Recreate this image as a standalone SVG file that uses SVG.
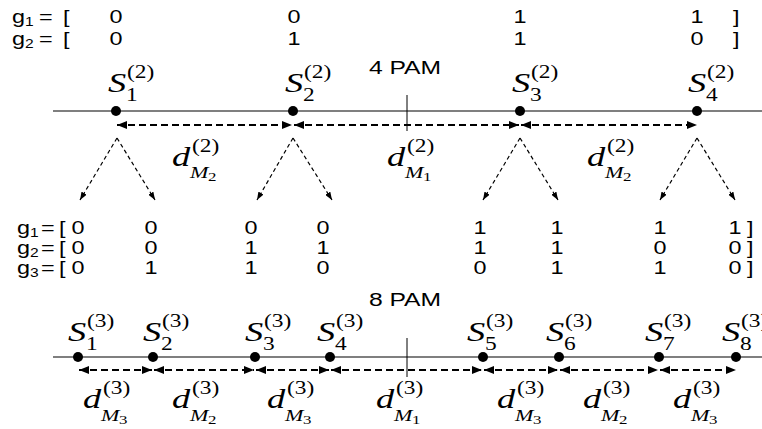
<svg xmlns="http://www.w3.org/2000/svg" width="762" height="429" viewBox="0 0 762 429">
<defs>
<style>
.t{font-family:"Liberation Sans",Arial,sans-serif;font-size:18px;fill:#000}
.c{text-anchor:middle}
.sb{font-size:12px}
.pam{font-family:"Liberation Sans",Arial,sans-serif;font-size:19px;fill:#000;text-anchor:middle}
.m{font-family:"Liberation Serif","Times New Roman",serif;fill:#000}
.big{font-size:28px;font-style:italic}
.sm{font-size:18px}
.mi{font-size:17px;font-style:italic}
.xs{font-size:13px}
.axis{stroke:#555;stroke-width:1.5;fill:none}
.tick{stroke:#000;stroke-width:1;fill:none}
.dist{stroke:#000;stroke-width:2;stroke-dasharray:7 4;fill:none}
.split{stroke:#000;stroke-width:1.2;stroke-dasharray:4 3;fill:none}
.dot{fill:#000}
</style>
<marker id="ah" viewBox="0 0 10 8" refX="10" refY="4" markerWidth="10" markerHeight="8" markerUnits="userSpaceOnUse" orient="auto-start-reverse">
<path d="M0,0 L10,4 L0,8 Z" fill="#000"/>
</marker>
<marker id="sh" viewBox="0 0 8 6" refX="8" refY="3" markerWidth="8" markerHeight="6" markerUnits="userSpaceOnUse" orient="auto">
<path d="M0,0 L8,3 L0,6 Z" fill="#000"/>
</marker>
</defs>

<g id="axis-4pam">
<line class="axis" x1="53" y1="111" x2="762" y2="111"/>
<line class="tick" x1="407" y1="95" x2="407" y2="131"/>
</g>
<g id="axis-8pam">
<line class="axis" x1="53" y1="357" x2="762" y2="357"/>
<line class="tick" x1="407" y1="338" x2="407" y2="377"/>
</g>

<g id="points-4pam">
<circle id="dot-S1-2" class="dot" cx="116" cy="111" r="5"/>
<circle id="dot-S2-2" class="dot" cx="293" cy="111" r="5"/>
<circle id="dot-S3-2" class="dot" cx="520" cy="111" r="5"/>
<circle id="dot-S4-2" class="dot" cx="697" cy="111" r="5"/>
</g>
<g id="points-8pam">
<circle id="dot-S1-3" class="dot" cx="78" cy="357" r="5"/>
<circle id="dot-S2-3" class="dot" cx="153" cy="357" r="5"/>
<circle id="dot-S3-3" class="dot" cx="255" cy="357" r="5"/>
<circle id="dot-S4-3" class="dot" cx="330" cy="357" r="5"/>
<circle id="dot-S5-3" class="dot" cx="483" cy="357" r="5"/>
<circle id="dot-S6-3" class="dot" cx="559" cy="357" r="5"/>
<circle id="dot-S7-3" class="dot" cx="659" cy="357" r="5"/>
<circle id="dot-S8-3" class="dot" cx="736" cy="357" r="5"/>
</g>

<g id="texts" transform="scale(1.3,1)">
<g id="table-4pam">
<text class="t" x="9.23" y="23">g<tspan class="sb" dy="3">1</tspan><tspan x="30" dy="-3">=</tspan><tspan x="48.46">[</tspan></text>
<text class="t" x="9.23" y="45">g<tspan class="sb" dy="3">2</tspan><tspan x="30" dy="-3">=</tspan><tspan x="48.46">[</tspan></text>
<text class="t c" y="23"><tspan x="89.23">0</tspan><tspan x="226.15">0</tspan><tspan x="400">1</tspan><tspan x="536.15">1</tspan></text>
<text class="t c" y="45"><tspan x="89.23">0</tspan><tspan x="226.15">1</tspan><tspan x="400">1</tspan><tspan x="536.15">0</tspan></text>
<text class="t" x="563.85" y="23">]</text><text class="t" x="563.85" y="45">]</text>
</g>
<g id="title-4pam"><text class="pam" x="311.54" y="74">4 PAM</text></g>

<g id="S1-2"><text class="m big" x="83.08" y="92">S</text><text class="m sm" x="97.69" y="78">(2)</text><text class="m sm" x="96.92" y="101">1</text></g>
<g id="S2-2"><text class="m big" x="219.23" y="92">S</text><text class="m sm" x="233.85" y="78">(2)</text><text class="m sm" x="233.08" y="101">2</text></g>
<g id="S3-2"><text class="m big" x="393.85" y="92">S</text><text class="m sm" x="408.46" y="78">(2)</text><text class="m sm" x="407.69" y="101">3</text></g>
<g id="S4-2"><text class="m big" x="529.23" y="92">S</text><text class="m sm" x="543.85" y="78">(2)</text><text class="m sm" x="543.08" y="101">4</text></g>

<g id="d-labels-2">
<text class="m big" x="132.31" y="166">d</text><text class="m sm" x="147.69" y="152">(2)</text><text class="m mi" x="146.15" y="178">M</text><text class="m xs" x="160" y="181">2</text>
<text class="m big" x="297.69" y="166">d</text><text class="m sm" x="313.08" y="152">(2)</text><text class="m mi" x="311.54" y="178">M</text><text class="m xs" x="325.38" y="181">1</text>
<text class="m big" x="451.54" y="166">d</text><text class="m sm" x="466.92" y="152">(2)</text><text class="m mi" x="465.38" y="178">M</text><text class="m xs" x="479.23" y="181">2</text>
</g>

<g id="table-8pam">
<text class="t" x="13.08" y="234">g<tspan class="sb" dy="3">1</tspan><tspan x="31.54" dy="-3">=</tspan><tspan x="45.38">[</tspan></text>
<text class="t" x="13.08" y="254">g<tspan class="sb" dy="3">2</tspan><tspan x="31.54" dy="-3">=</tspan><tspan x="45.38">[</tspan></text>
<text class="t" x="13.08" y="274">g<tspan class="sb" dy="3">3</tspan><tspan x="31.54" dy="-3">=</tspan><tspan x="45.38">[</tspan></text>
<text class="t c" y="234"><tspan x="60">0</tspan><tspan x="116.15">0</tspan><tspan x="193.08">0</tspan><tspan x="248.46">0</tspan><tspan x="369.23">1</tspan><tspan x="428.46">1</tspan><tspan x="507.69">1</tspan><tspan x="565.38">1</tspan></text>
<text class="t c" y="254"><tspan x="60">0</tspan><tspan x="116.15">0</tspan><tspan x="193.08">1</tspan><tspan x="248.46">1</tspan><tspan x="369.23">1</tspan><tspan x="428.46">1</tspan><tspan x="507.69">0</tspan><tspan x="565.38">0</tspan></text>
<text class="t c" y="274"><tspan x="60">0</tspan><tspan x="116.15">1</tspan><tspan x="193.08">1</tspan><tspan x="248.46">0</tspan><tspan x="369.23">0</tspan><tspan x="428.46">1</tspan><tspan x="507.69">1</tspan><tspan x="565.38">0</tspan></text>
<text class="t" x="574.62" y="234">]</text><text class="t" x="574.62" y="254">]</text><text class="t" x="574.62" y="274">]</text>
</g>
<g id="title-8pam"><text class="pam" x="311.54" y="306">8 PAM</text></g>

<g id="S1-3"><text class="m big" x="52.31" y="341">S</text><text class="m sm" x="66.92" y="327">(3)</text><text class="m sm" x="66.15" y="350">1</text></g>
<g id="S2-3"><text class="m big" x="110" y="341">S</text><text class="m sm" x="124.62" y="327">(3)</text><text class="m sm" x="123.85" y="350">2</text></g>
<g id="S3-3"><text class="m big" x="188.46" y="341">S</text><text class="m sm" x="203.08" y="327">(3)</text><text class="m sm" x="202.31" y="350">3</text></g>
<g id="S4-3"><text class="m big" x="243.85" y="341">S</text><text class="m sm" x="258.46" y="327">(3)</text><text class="m sm" x="257.69" y="350">4</text></g>
<g id="S5-3"><text class="m big" x="359.23" y="341">S</text><text class="m sm" x="373.85" y="327">(3)</text><text class="m sm" x="373.08" y="350">5</text></g>
<g id="S6-3"><text class="m big" x="420" y="341">S</text><text class="m sm" x="434.62" y="327">(3)</text><text class="m sm" x="433.85" y="350">6</text></g>
<g id="S7-3"><text class="m big" x="496.15" y="341">S</text><text class="m sm" x="510.77" y="327">(3)</text><text class="m sm" x="510" y="350">7</text></g>
<g id="S8-3"><text class="m big" x="555.38" y="341">S</text><text class="m sm" x="570" y="327">(3)</text><text class="m sm" x="569.23" y="350">8</text></g>

<g id="d-labels-3">
<text class="m big" x="63.85" y="408">d</text><text class="m sm" x="79.23" y="394">(3)</text><text class="m mi" x="77.69" y="421">M</text><text class="m xs" x="91.54" y="424">3</text>
<text class="m big" x="132.31" y="408">d</text><text class="m sm" x="147.69" y="394">(3)</text><text class="m mi" x="146.15" y="421">M</text><text class="m xs" x="160" y="424">2</text>
<text class="m big" x="205.38" y="408">d</text><text class="m sm" x="220.77" y="394">(3)</text><text class="m mi" x="219.23" y="421">M</text><text class="m xs" x="233.08" y="424">3</text>
<text class="m big" x="289.23" y="408">d</text><text class="m sm" x="304.62" y="394">(3)</text><text class="m mi" x="303.08" y="421">M</text><text class="m xs" x="316.92" y="424">1</text>
<text class="m big" x="382.31" y="408">d</text><text class="m sm" x="397.69" y="394">(3)</text><text class="m mi" x="396.15" y="421">M</text><text class="m xs" x="410" y="424">3</text>
<text class="m big" x="448.46" y="408">d</text><text class="m sm" x="463.85" y="394">(3)</text><text class="m mi" x="462.31" y="421">M</text><text class="m xs" x="476.15" y="424">2</text>
<text class="m big" x="517.69" y="408">d</text><text class="m sm" x="533.08" y="394">(3)</text><text class="m mi" x="531.54" y="421">M</text><text class="m xs" x="545.38" y="424">3</text>
</g>
</g>

<g id="connectors">
<line class="dist" x1="117" y1="125" x2="292" y2="125" marker-start="url(#ah)" marker-end="url(#ah)"/>
<line class="dist" x1="294" y1="125" x2="519" y2="125" marker-start="url(#ah)" marker-end="url(#ah)"/>
<line class="dist" x1="521" y1="125" x2="697" y2="125" marker-start="url(#ah)" marker-end="url(#ah)"/>

<line class="split" x1="117" y1="138" x2="80" y2="200" marker-end="url(#sh)"/>
<line class="split" x1="117" y1="138" x2="155" y2="200" marker-end="url(#sh)"/>
<line class="split" x1="293" y1="138" x2="257" y2="200" marker-end="url(#sh)"/>
<line class="split" x1="293" y1="138" x2="332" y2="200" marker-end="url(#sh)"/>
<line class="split" x1="520" y1="138" x2="483" y2="200" marker-end="url(#sh)"/>
<line class="split" x1="520" y1="138" x2="558" y2="200" marker-end="url(#sh)"/>
<line class="split" x1="697" y1="138" x2="660" y2="200" marker-end="url(#sh)"/>
<line class="split" x1="697" y1="138" x2="735" y2="200" marker-end="url(#sh)"/>

<line class="dist" x1="79" y1="370" x2="152" y2="370" marker-start="url(#ah)" marker-end="url(#ah)"/>
<line class="dist" x1="154" y1="370" x2="254" y2="370" marker-start="url(#ah)" marker-end="url(#ah)"/>
<line class="dist" x1="256" y1="370" x2="329" y2="370" marker-start="url(#ah)" marker-end="url(#ah)"/>
<line class="dist" x1="331" y1="370" x2="482" y2="370" marker-start="url(#ah)" marker-end="url(#ah)"/>
<line class="dist" x1="484" y1="370" x2="558" y2="370" marker-start="url(#ah)" marker-end="url(#ah)"/>
<line class="dist" x1="560" y1="370" x2="658" y2="370" marker-start="url(#ah)" marker-end="url(#ah)"/>
<line class="dist" x1="660" y1="370" x2="736" y2="370" marker-start="url(#ah)" marker-end="url(#ah)"/>
</g>
</svg>
